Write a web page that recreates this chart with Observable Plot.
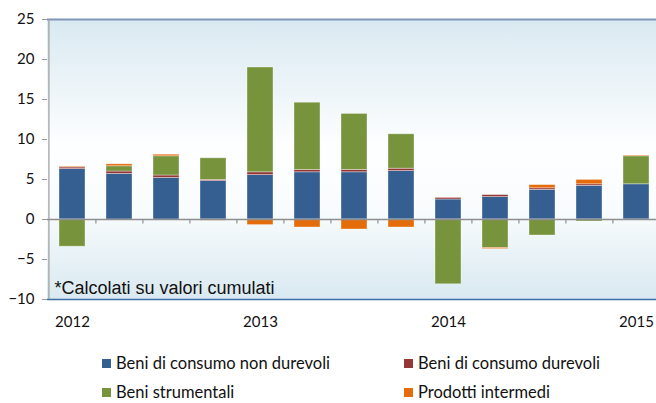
<!DOCTYPE html>
<html>
<head>
<meta charset="utf-8">
<script src="https://cdn.jsdelivr.net/npm/d3@7"></script>
<script src="https://cdn.jsdelivr.net/npm/@observablehq/plot@0.6"></script>
<style>
  html, body { margin: 0; padding: 0; background: #fff; }
  body { width: 656px; height: 403px; overflow: hidden; font-family: Lato, "Open Sans", sans-serif; }
  #legend { position: relative; height: 58px; font-size: 16.5px; color: #111; }
  .item { position: absolute; display: flex; align-items: center; white-space: nowrap; }
  .sw { width: 9px; height: 9px; margin-right: 5px; }
</style>
</head>
<body>
<div id="chart"></div>
<div id="legend"></div>
<script>
const quarters = ["2012 T1","2012 T2","2012 T3","2012 T4","2013 T1","2013 T2","2013 T3","2013 T4","2014 T1","2014 T2","2014 T3","2014 T4","2015 T1"];
const tickLabels = ["2012","","","","2013","","","","2014","","","","2015"];
const seriesNames = ["Beni di consumo non durevoli","Beni di consumo durevoli","Beni strumentali","Prodotti intermedi"];
const seriesColors = ["#355f91","#953735","#77933c","#e46c0a"];
const nonDurevoli = [6.3, 5.7, 5.2, 4.8, 5.55, 5.9, 5.9, 6.05, 2.5, 2.8, 3.7, 4.2, 4.4];
const durevoli    = [0.2, 0.3, 0.3, 0.15, 0.35, 0.3, 0.3, 0.3, 0.2, 0.25, 0.2, 0.2, -0.1];
const strumentali = [-3.4, 0.65, 2.4, 2.7, 13.1, 8.4, 7.0, 4.3, -8.1, -3.55, -2.0, -0.25, 3.5];
const intermedi   = [0.1, 0.25, 0.2, -0.15, -0.7, -1.0, -1.25, -1.0, 0.0, -0.15, 0.4, 0.55, 0.1];
const yTicks = [-10, -5, 0, 5, 10, 15, 20, 25];
const note = "*Calcolati su valori cumulati";

const seriesValues = [nonDurevoli, durevoli, strumentali, intermedi];
const data = [];
seriesNames.forEach((s, si) => quarters.forEach((q, qi) => data.push({quarter: q, serie: s, value: seriesValues[si][qi]})));

const W = 656, H = 345, mL = 47, mR = -4, mT = 19, mB = 46;
const step = (W - mL - mR) / quarters.length;

const background = (index, scales, values, dims) => {
  const g = d3.create("svg:g");
  const defs = g.append("defs");
  const lg = defs.append("linearGradient").attr("id", "bgGrad").attr("x1", 0).attr("y1", 0).attr("x2", 0).attr("y2", 1);
  lg.append("stop").attr("offset", "0%").attr("stop-color", "#d9e9f1");
  lg.append("stop").attr("offset", "45%").attr("stop-color", "#fdfeff");
  lg.append("stop").attr("offset", "68%").attr("stop-color", "#f9fcfd");
  lg.append("stop").attr("offset", "100%").attr("stop-color", "#d9e9f1");
  g.append("rect").attr("x", dims.marginLeft).attr("y", dims.marginTop)
    .attr("width", dims.width - dims.marginLeft - dims.marginRight)
    .attr("height", dims.height - dims.marginTop - dims.marginBottom)
    .attr("fill", "url(#bgGrad)");
  return g.node();
};

const chart = Plot.plot({
  width: W, height: H,
  marginLeft: mL, marginRight: mR, marginTop: mT, marginBottom: mB,
  style: {fontFamily: "Lato, sans-serif", fontSize: "15px", color: "#111", background: "transparent"},
  x: {domain: quarters, paddingInner: 0.45, paddingOuter: 0.225, align: 0.5, label: null},
  y: {domain: [-10, 25], label: null},
  color: {domain: seriesNames, range: seriesColors},
  marks: [
    background,
    Plot.barY(data, Plot.stackY({order: seriesNames}, {x: "quarter", y: "value", fill: "serie", stroke: "#ffffff", strokeOpacity: 0.45, strokeWidth: 0.8})),
    Plot.ruleY([0], {stroke: "#8f8f8f", strokeWidth: 1.5}),
    Plot.ruleX(quarters.slice(1), {x: d => d, dx: -step / 2, y1: 0, y2: -0.55, stroke: "#8f8f8f", strokeWidth: 1.2}),
    Plot.ruleY([25], {stroke: "#7f96b9", strokeWidth: 2}),
    Plot.ruleY([-10], {stroke: "#3f6ba8", strokeWidth: 1.5}),
    Plot.ruleX([quarters[0]], {dx: -step / 2, y1: -10, y2: 25, stroke: "#9a9a9a", strokeWidth: 1.2}),
    Plot.text([note], {frameAnchor: "bottom-left", textAnchor: "start", lineAnchor: "bottom", dx: 7, dy: -6,
      fontFamily: "Liberation Sans, Arial, sans-serif", fontSize: 18, fill: "#111"}),
    Plot.axisY({ticks: yTicks, tickSize: 5, tickPadding: 8, stroke: "#9a9a9a", fontSize: 15}),
    Plot.axisX({tickSize: 0, tickPadding: 17, fontSize: 15, tickFormat: (d) => tickLabels[quarters.indexOf(d)]})
  ]
});
document.getElementById("chart").appendChild(chart);

const legend = document.getElementById("legend");
const pos = [[102, 8], [404, 8], [102, 37], [404, 37]];
seriesNames.forEach((s, i) => {
  const it = document.createElement("div");
  it.className = "item";
  it.style.left = pos[i][0] + "px";
  it.style.top = pos[i][1] + "px";
  it.innerHTML = `<span class="sw" style="background:${seriesColors[i]}"></span><span>${s}</span>`;
  legend.appendChild(it);
});
</script>
</body>
</html>
